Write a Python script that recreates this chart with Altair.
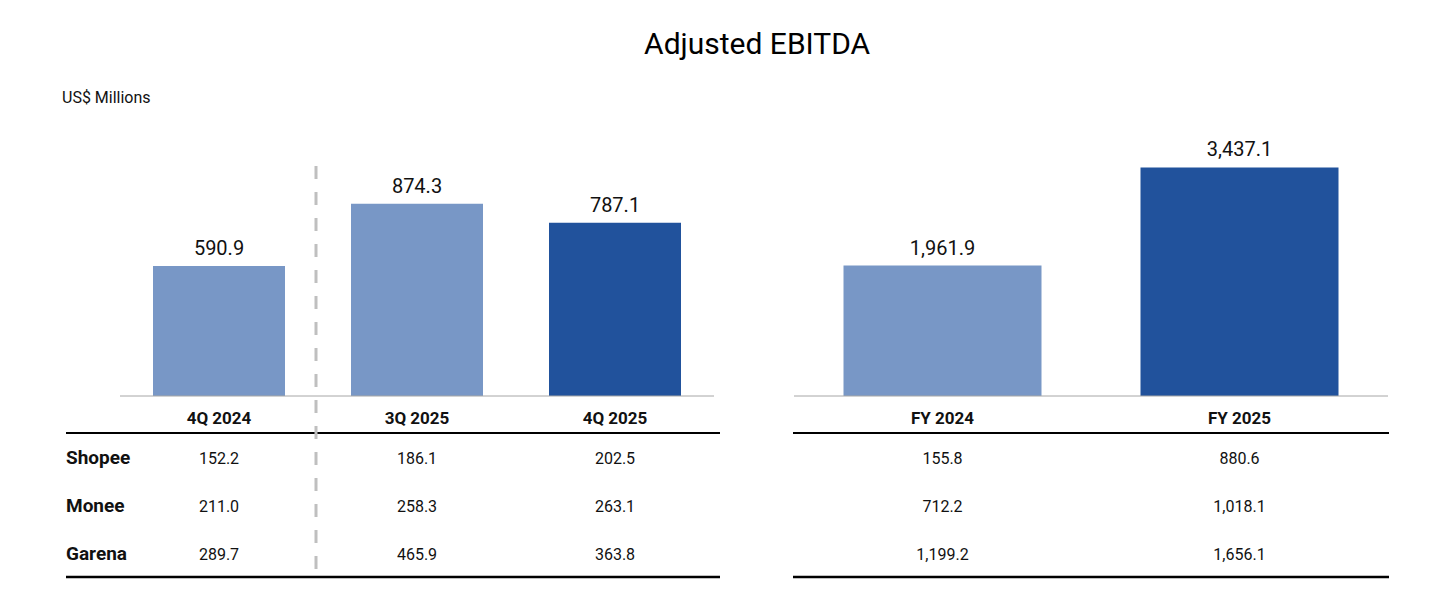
import altair as alt
import pandas as pd

# ---- data ----
quarters = ["4Q 2024", "3Q 2025", "4Q 2025"]
quarter_total = [590.9, 874.3, 787.1]
quarter_shopee = [152.2, 186.1, 202.5]
quarter_monee = [211.0, 258.3, 263.1]
quarter_garena = [289.7, 465.9, 363.8]

years = ["FY 2024", "FY 2025"]
year_total = [1961.9, 3437.1]
year_shopee = [155.8, 880.6]
year_monee = [712.2, 1018.1]
year_garena = [1199.2, 1656.1]

segments = ["Shopee", "Monee", "Garena"]
current_periods = ["4Q 2025", "FY 2025"]

# ---- style / layout ----
FONT = "Roboto"
LIGHT = "#7897C6"
DARK = "#21529C"
TOP = 130          # page y of plot top
BASE = 395         # page y of bar baseline
H = 460
W = 594
ROW_FIRST = 463
ROW_LAST = 559
HEADER_RULE = 432
BOTTOM_RULE = 576


def build_panel(periods, totals, seg_values, ymax, rule_x0, rule_x1,
                row_labels, separator, title):
    bar_df = pd.DataFrame({
        "period": periods,
        "total": totals,
        "kind": ["current" if p in current_periods else "prior" for p in periods],
    })
    tab_df = pd.DataFrame([
        {"period": p, "segment": s, "value": v}
        for s, vals in zip(segments, seg_values)
        for p, v in zip(periods, vals)
    ])
    seg_df = pd.DataFrame({"segment": segments})
    one = pd.DataFrame({"k": [0]})

    xs = alt.Scale(domain=periods, paddingInner=1 / 3, paddingOuter=1 / 6)
    x = alt.X("period:N", scale=xs, axis=None, sort=periods)

    def yscale():
        return alt.Scale(domain=[0, ymax], range=[BASE - TOP, 0], nice=False, zero=False)

    def tscale():
        return alt.Scale(type="point", domain=segments,
                         range=[ROW_FIRST - TOP, ROW_LAST - TOP], padding=0)

    bars = alt.Chart(bar_df).mark_bar().encode(
        x=x,
        y=alt.Y("total:Q", scale=yscale(), axis=None),
        color=alt.Color("kind:N", scale=alt.Scale(domain=["prior", "current"],
                                                  range=[LIGHT, DARK]), legend=None),
    )
    values = alt.Chart(bar_df).mark_text(
        font=FONT, fontSize=20, color="#111111", baseline="alphabetic", dy=-11
    ).encode(
        x=x,
        y=alt.Y("total:Q", scale=yscale(), axis=None),
        text=alt.Text("total:Q", format=",.1f"),
    )
    baseline = alt.Chart(one).mark_rule(color="#A6A6A6", strokeWidth=1).encode(
        y=alt.Y(datum=0, scale=yscale(), axis=None)
    )
    headers = alt.Chart(bar_df).mark_text(
        font=FONT, fontSize=17, fontWeight="bold", color="#111111",
        baseline="alphabetic", dy=28
    ).encode(
        x=x,
        y=alt.Y(datum=0, scale=yscale(), axis=None),
        text="period:N",
    )
    cells = alt.Chart(tab_df).mark_text(
        font=FONT, fontSize=16, color="#111111", baseline="alphabetic"
    ).encode(
        x=x,
        y=alt.Y("segment:N", scale=tscale(), axis=None),
        text=alt.Text("value:Q", format=",.1f"),
    )
    header_rule = alt.Chart(one).mark_rule(color="#000000", strokeWidth=2).encode(
        x=alt.value(rule_x0), x2=alt.value(rule_x1), y=alt.value(HEADER_RULE - TOP)
    )
    bottom_rule = alt.Chart(one).mark_rule(color="#000000", strokeWidth=2.5).encode(
        x=alt.value(rule_x0), x2=alt.value(rule_x1), y=alt.value(BOTTOM_RULE - TOP)
    )
    layers = [bars, values, baseline, headers, cells, header_rule, bottom_rule]
    if row_labels:
        labels = alt.Chart(seg_df).mark_text(
            font=FONT, fontSize=19, fontWeight="bold", color="#111111",
            baseline="alphabetic", align="left"
        ).encode(
            x=alt.value(rule_x0),
            y=alt.Y("segment:N", scale=tscale(), axis=None),
            text="segment:N",
        )
        layers.append(labels)
    if separator:
        sep = alt.Chart(one).mark_rule(
            color="#BFBFBF", strokeWidth=3, strokeDash=[13, 13], xOffset=-35
        ).encode(
            x=alt.X(datum=separator, type="nominal", scale=xs, bandPosition=0),
            y=alt.value(165 - TOP),
            y2=alt.value(572 - TOP),
        )
        layers.append(sep)

    props = dict(width=W, height=H)
    if title is not None:
        props["title"] = title
    return alt.layer(*layers).resolve_scale(y="independent").properties(**props)


left = build_panel(
    quarters, quarter_total, [quarter_shopee, quarter_monee, quarter_garena],
    ymax=(BASE - TOP) / 0.22, rule_x0=-54, rule_x1=600, row_labels=True,
    separator="3Q 2025",
    title=alt.TitleParams("US$ Millions", anchor="start", frame="group", dx=-58,
                          fontSize=16, fontWeight="normal", font=FONT,
                          color="#111111", baseline="alphabetic", offset=12),
)
right = build_panel(
    years, year_total, [year_shopee, year_monee, year_garena],
    ymax=(BASE - TOP) / 0.0665, rule_x0=-1, rule_x1=595, row_labels=False,
    separator=None, title=None,
)

chart = alt.hconcat(left, right, spacing=80, bounds="flush").properties(
    title=alt.TitleParams("Adjusted EBITDA", anchor="middle", fontSize=30,
                          fontWeight="normal", font=FONT, color="#000000",
                          baseline="alphabetic", offset=6, dx=31),
    padding={"left": 54, "top": 22, "right": 5, "bottom": 5},
    background="white",
).configure_view(strokeWidth=0, stroke=None)

chart.save("out.html", embed_options={"renderer": "svg", "actions": False})
